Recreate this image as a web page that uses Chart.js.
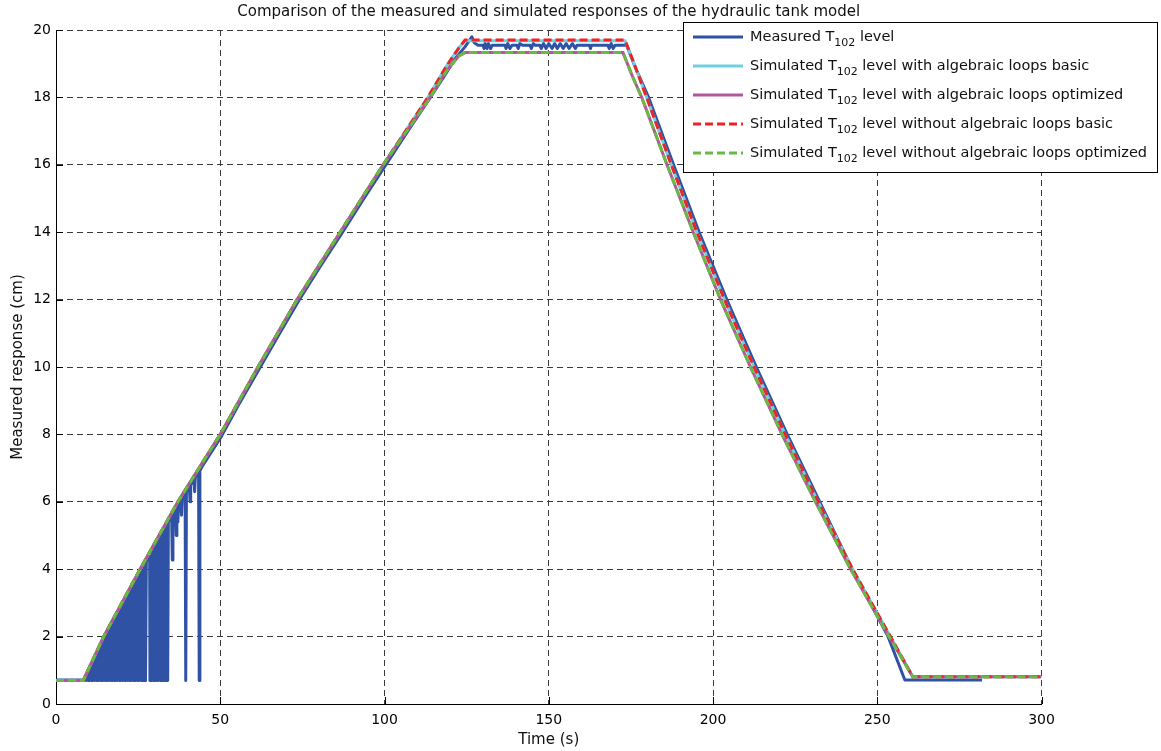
<!DOCTYPE html>
<html>
<head>
<meta charset="utf-8">
<title>Hydraulic tank model responses</title>
<script src="https://cdn.jsdelivr.net/npm/chart.js@4.4.1/dist/chart.umd.min.js"></script>
<style>
  html, body { margin: 0; padding: 0; background: #fff; }
  #wrap { width: 1161px; height: 751px; }
</style>
</head>
<body>
<div id="wrap"><canvas id="tankChart" width="1161" height="751"></canvas></div>
<script>
// axis ticks
const xTicks = [0, 50, 100, 150, 200, 250, 300];
const yTicks = [0, 2, 4, 6, 8, 10, 12, 14, 16, 18, 20];

// measured T102 level (sensor drops to the floor value during the first 45 s)
const measuredTime = [
  0, 8.6, 9.0, 9.25, 9.5, 9.75, 10.0, 10.25, 10.5, 10.75, 11.0, 11.25, 11.5, 11.75,
  12.0, 12.25, 12.5, 12.75, 13.0, 13.25, 13.5, 13.75, 14.0, 14.25, 14.5, 14.75,
  15.0, 15.25, 15.5, 15.75, 16.0, 16.25, 16.5, 16.75, 17.0, 17.25, 17.5, 17.75,
  18.0, 18.25, 18.5, 18.75, 19.0, 19.25, 19.5, 19.75, 20.0, 20.25, 20.5, 20.75,
  21.0, 21.25, 21.5, 21.75, 22.0, 22.25, 22.5, 22.75, 23.0, 23.25, 23.5, 23.75,
  24.0, 24.25, 24.5, 24.75, 25.0, 25.25,
  25.5, 25.8, 25.9, 26.1, 26.2, 26.4, 26.5, 26.7, 26.8, 27.1, 27.2, 27.3, 27.5,
  28.5, 28.6, 28.7, 28.8, 29.2, 29.4, 29.6, 29.8, 30.0, 30.2, 30.4, 30.6, 30.8,
  31.0, 31.6, 31.7, 31.9, 32.1, 32.3, 32.5, 32.7, 32.9, 33.1, 33.3, 33.5, 33.7,
  34.0, 34.2, 35.2, 35.4, 35.6, 36.4, 36.6, 36.8, 37.1, 37.3, 38.0, 38.2, 38.4,
  39.3, 39.5, 39.7, 40.6, 40.8, 41.0, 42.0, 42.2, 42.4, 43.4, 43.6, 43.8, 44.5,
  50.4, 56.0, 61.9, 67.8, 73.8, 80.2, 86.9, 93.4, 100.1, 106.8, 113.6, 118.0,
  121.5, 124.5, 126.6, 127.3, 128.5,
  130.0, 130.3, 130.6, 131.2, 131.6, 132.3, 132.8,
  136.7, 137.0, 137.5, 138.2, 138.8,
  140.3, 140.7, 141.2, 141.9,
  144.3, 144.7, 145.3, 145.8,
  147.3, 147.7, 148.4, 149.2, 150.0, 151.0, 151.8, 152.6, 153.5, 154.4, 155.3,
  156.2, 157.2, 158.1, 158.6,
  162.4, 162.7, 163.0,
  168.0, 168.4, 169.0, 169.6, 170.2, 173.7,
  176.3, 180.4, 188.0, 195.8, 204.2, 213.2, 222.6, 232.5, 242.4, 253.3, 258.4, 281.9
];
const measuredLevel = [
  0.71, 0.71, 0.8, 0.7, 0.9, 0.7, 1.0, 0.7, 1.1, 0.7, 1.2, 0.7, 1.3, 0.7,
  1.4, 0.7, 1.5, 0.7, 1.6, 0.7, 1.7, 0.7, 1.8, 0.7, 1.9, 0.7,
  1.97, 0.7, 2.06, 0.7, 2.15, 0.7, 2.24, 0.7, 2.33, 0.7, 2.42, 0.7,
  2.51, 0.7, 2.6, 0.7, 2.69, 0.7, 2.78, 0.7, 2.87, 0.7, 2.96, 0.7,
  3.05, 0.7, 3.14, 0.7, 3.23, 0.7, 3.32, 0.7, 3.41, 0.7, 3.5, 0.7,
  3.59, 0.7, 3.68, 0.7, 3.77, 0.7,
  3.86, 3.92, 0.7, 3.97, 0.7, 3.4, 0.7, 4.08, 0.7, 0.7, 2.95, 0.7, 4.22,
  4.4, 0.7, 3.0, 0.7, 0.7, 4.56, 0.7, 4.62, 0.7, 4.7, 0.7, 4.77, 0.7,
  4.84, 4.94, 0.7, 5.0, 0.7, 5.07, 0.7, 5.14, 0.7, 5.2, 0.7, 5.27, 0.7,
  0.7, 5.4, 5.56, 4.27, 5.6, 5.74, 5.0, 5.8, 5.4, 5.9, 6.04, 5.6, 6.1,
  6.24, 0.7, 6.3, 6.44, 6.0, 6.5, 6.66, 6.3, 6.72, 6.88, 0.7, 6.92, 7.05,
  7.95, 8.95, 9.95, 10.95, 11.95, 12.95, 13.95, 14.95, 15.95, 16.95, 17.95, 18.6,
  19.15, 19.5, 19.8, 19.62, 19.55,
  19.55, 19.45, 19.6, 19.45, 19.6, 19.45, 19.55,
  19.55, 19.45, 19.6, 19.45, 19.55,
  19.55, 19.45, 19.6, 19.55,
  19.55, 19.45, 19.6, 19.55,
  19.55, 19.45, 19.6, 19.45, 19.6, 19.45, 19.6, 19.45, 19.6, 19.45, 19.6,
  19.45, 19.6, 19.45, 19.55,
  19.55, 19.45, 19.55,
  19.55, 19.45, 19.6, 19.45, 19.55, 19.55,
  18.9, 18, 16, 14, 12, 10, 8, 6, 4, 2, 0.71, 0.71
];

// simulated, basic parameters
const basicTime = [0, 8.3, 14.5, 25.6, 37.1, 50, 61.5, 73.4, 86.5, 99.6, 113.2, 119, 122.5, 124.5,
  173.2, 176, 179.8, 187.3, 195.1, 203.5, 212.5, 222, 232, 242.5, 254, 260.8, 300];
const loopsBasic = [0.7, 0.7, 2, 4, 6, 8, 10, 12, 14, 16, 18, 18.95, 19.45, 19.68,
  19.68, 19.0, 18, 16, 14, 12, 10, 8, 6, 4, 2, 0.81, 0.81];
const noLoopsBasic = [0.7, 0.7, 2, 4, 6, 8, 10, 12, 14, 16, 18, 18.95, 19.45, 19.7,
  19.7, 19.0, 18, 16, 14, 12, 10, 8, 6, 4, 2, 0.81, 0.81];

// simulated, optimized parameters
const optTime = [0, 8.3, 14.5, 25.6, 37.1, 50, 61.5, 73.4, 86.5, 99.6, 113.2, 119, 122.5, 124.5,
  172.6, 175.5, 178.3, 186, 194, 202.3, 211.4, 221, 231.2, 241.9, 253.6, 260.8, 300];
const loopsOpt = [0.7, 0.7, 2, 4, 6, 8, 10, 12, 14, 16, 17.9, 18.8, 19.22, 19.33,
  19.33, 18.62, 18, 16, 14, 12, 10, 8, 6, 4, 2, 0.81, 0.81];
const noLoopsOpt = [0.7, 0.7, 2, 4, 6, 8, 10, 12, 14, 16, 17.9, 18.8, 19.22, 19.33,
  19.33, 18.62, 18, 16, 14, 12, 10, 8, 6, 4, 2, 0.81, 0.81];

const FONT = "'DejaVu Sans', sans-serif";

function pairs(ts, ys) {
  return ts.map((t, i) => ({ x: t, y: ys[i] }));
}

// inward tick marks, title, axis labels and the legend (with T subscript)
const decorations = {
  id: "decorations",
  beforeDatasetsDraw(chart) {
    const { ctx, chartArea: a, scales } = chart;
    ctx.save();
    ctx.strokeStyle = "#000";
    ctx.lineWidth = 1;
    ctx.beginPath();
    xTicks.forEach((v) => {
      const px = Math.round(scales.x.getPixelForValue(v)) + 0.5;
      ctx.moveTo(px, a.bottom);
      ctx.lineTo(px, a.bottom - 7);
    });
    yTicks.forEach((v) => {
      const py = Math.round(scales.y.getPixelForValue(v)) + 0.5;
      ctx.moveTo(a.left, py);
      ctx.lineTo(a.left + 7, py);
    });
    ctx.stroke();
    ctx.restore();
  },
  afterDraw(chart) {
    const { ctx, chartArea: a } = chart;
    const cx = (a.left + a.right) / 2;
    ctx.save();
    ctx.fillStyle = "#111";
    ctx.textAlign = "center";
    ctx.textBaseline = "middle";
    ctx.font = "15px " + FONT;
    ctx.fillText("Comparison of the measured and simulated responses of the hydraulic tank model", cx, 12);
    ctx.fillText("Time (s)", cx, 740);
    ctx.translate(18, (a.top + a.bottom) / 2);
    ctx.rotate(-Math.PI / 2);
    ctx.fillText("Measured response (cm)", 0, 0);
    ctx.restore();

    // legend box
    const bx = 683.5, by = 22.5, bw = 474, bh = 150;
    ctx.save();
    ctx.fillStyle = "#fff";
    ctx.fillRect(bx, by, bw, bh);
    ctx.strokeStyle = "#000";
    ctx.lineWidth = 1;
    ctx.strokeRect(bx, by, bw, bh);
    chart.data.datasets.forEach((ds, row) => {
      const y = 37 + row * 29;
      ctx.strokeStyle = ds.borderColor;
      ctx.lineWidth = ds.borderWidth;
      ctx.setLineDash(ds.borderDash || []);
      ctx.beginPath();
      ctx.moveTo(693, y);
      ctx.lineTo(743, y);
      ctx.stroke();
      ctx.setLineDash([]);

      const m = ds.label.match(/^(.*T)(102)(.*)$/);
      let x = 750;
      ctx.fillStyle = "#111";
      ctx.textAlign = "left";
      ctx.textBaseline = "middle";
      ctx.font = "14.5px " + FONT;
      ctx.fillText(m[1], x, y);
      x += ctx.measureText(m[1]).width;
      ctx.font = "11px " + FONT;
      ctx.fillText(m[2], x, y + 6);
      x += ctx.measureText(m[2]).width;
      ctx.font = "14.5px " + FONT;
      ctx.fillText(m[3], x, y);
    });
    ctx.restore();
  }
};

const gridOpts = { color: "#3a3a3a", lineWidth: 1, drawTicks: false };
const borderOpts = { display: true, color: "#000", width: 1, dash: [6, 4] };
const tickFont = { family: FONT, size: 14 };

new Chart(document.getElementById("tankChart"), {
  type: "line",
  data: {
    datasets: [
      {
        label: "Measured T102 level",
        data: pairs(measuredTime, measuredLevel),
        borderColor: "#2f52a4",
        borderWidth: 3,
        borderJoinStyle: "round",
        order: 5
      },
      {
        label: "Simulated T102 level with algebraic loops basic",
        data: pairs(basicTime, loopsBasic),
        borderColor: "#70cfe0",
        borderWidth: 3,
        order: 4
      },
      {
        label: "Simulated T102 level with algebraic loops optimized",
        data: pairs(optTime, loopsOpt),
        borderColor: "#b4559f",
        borderWidth: 3,
        order: 3
      },
      {
        label: "Simulated T102 level without algebraic loops basic",
        data: pairs(basicTime, noLoopsBasic),
        borderColor: "#ec2428",
        borderWidth: 3,
        borderDash: [8, 4],
        order: 2
      },
      {
        label: "Simulated T102 level without algebraic loops optimized",
        data: pairs(optTime, noLoopsOpt),
        borderColor: "#66bb44",
        borderWidth: 3,
        borderDash: [8, 4],
        order: 1
      }
    ]
  },
  options: {
    responsive: false,
    animation: false,
    devicePixelRatio: 1,
    layout: { padding: { left: 0, right: 119.5, top: 30, bottom: 0 } },
    elements: { point: { radius: 0 }, line: { tension: 0 } },
    plugins: { legend: { display: false }, tooltip: { enabled: false } },
    scales: {
      x: {
        type: "linear",
        min: 0,
        max: 300,
        afterBuildTicks: (s) => { s.ticks = xTicks.map((v) => ({ value: v })); },
        afterFit: (s) => { s.height = 47; },
        ticks: { font: tickFont, color: "#000", padding: 8, maxRotation: 0, autoSkip: false },
        grid: gridOpts,
        border: borderOpts
      },
      y: {
        type: "linear",
        min: 0,
        max: 20,
        afterBuildTicks: (s) => { s.ticks = yTicks.map((v) => ({ value: v })); },
        afterFit: (s) => { s.width = 56; },
        ticks: { font: tickFont, color: "#000", padding: 5, autoSkip: false },
        grid: gridOpts,
        border: borderOpts
      }
    }
  },
  plugins: [decorations]
});
</script>
</body>
</html>
